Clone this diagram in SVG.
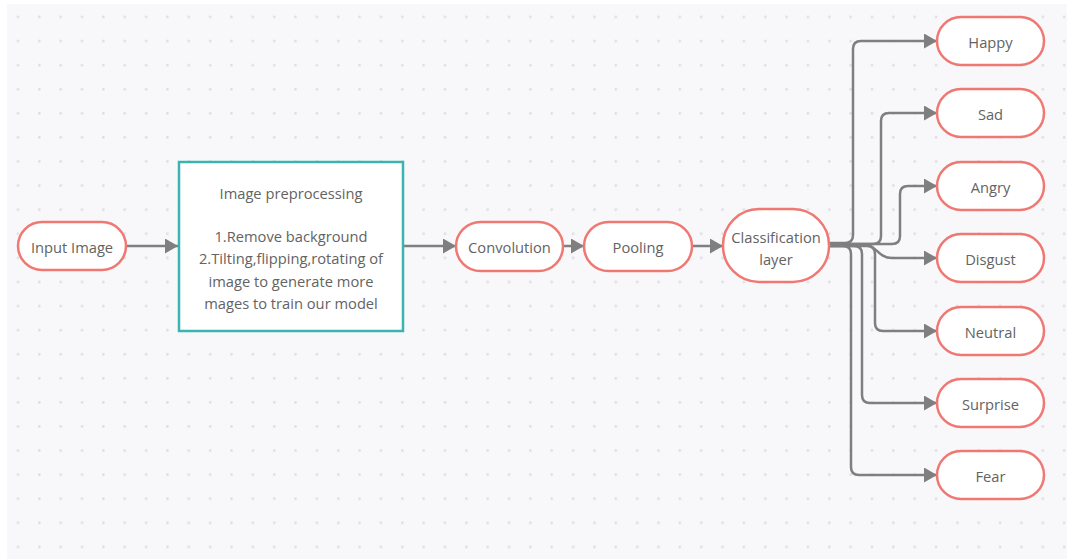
<svg xmlns="http://www.w3.org/2000/svg" width="1067" height="559" viewBox="0 0 1067 559">
<defs>
<pattern id="dots" x="7" y="5" width="21.35" height="24.09" patternUnits="userSpaceOnUse">
<circle cx="11" cy="12" r="1.3" fill="#dcdce2"/>
</pattern>
<marker id="ah" markerUnits="userSpaceOnUse" markerWidth="15" markerHeight="17" refX="13" refY="7.5" orient="auto">
<path d="M0,0 L13,7.5 L0,15 Z" fill="#7f7f7f"/>
</marker>
<style>
.pill{fill:#ffffff;stroke:#f07873;stroke-width:2.5}
.box{fill:#ffffff;stroke:#3bb3b0;stroke-width:2.5}
.t{font-family:"Open Sans","Noto Sans",sans-serif;font-size:14.7px;fill:#636363;text-anchor:middle}
.c{fill:none;stroke:#7f7f7f;stroke-width:2.5;marker-end:url(#ah)}
</style>
</defs>
<rect x="0" y="0" width="1067" height="559" fill="#ffffff"/>
<rect x="7" y="4" width="1060" height="555" fill="#f8f8fb"/>
<rect x="7" y="4" width="1060" height="555" fill="url(#dots)"/>
<g id="connectors">
<path class="c" d="M126,246 H178"/>
<path class="c" d="M404,246 H456"/>
<path class="c" d="M563,246 H584"/>
<path class="c" d="M692,246 H723"/>
<path class="c" d="M829,243 H845 Q853,243 853,235 V49 Q853,41 861,41 H937"/>
<path class="c" d="M829,244 H873 Q881,244 881,236 V121 Q881,113 889,113 H937"/>
<path class="c" d="M829,244 H892 Q900,244 900,236 V194 Q900,186 908,186 H937"/>
<path class="c" d="M829,245 H866 C876,245 878,258 892,258 H937"/>
<path class="c" d="M829,246 H867 Q875,246 875,254 V323 Q875,331 883,331 H937"/>
<path class="c" d="M829,246 H854 Q862,246 862,254 V395 Q862,403 870,403 H937"/>
<path class="c" d="M829,246 H843 Q851,246 851,254 V467 Q851,475 859,475 H937"/>
</g>
<g id="input">
<rect class="pill" x="18" y="222" width="108" height="48" rx="24"/>
<text class="t" x="72" y="253">Input Image</text>
</g>
<g id="preprocessing">
<rect class="box" x="179" y="162" width="224" height="169"/>
<text class="t" x="291" y="199">Image preprocessing</text>
<text class="t" x="291" y="242">1.Remove background</text>
<text class="t" x="291" y="264">2.Tilting,flipping,rotating of</text>
<text class="t" x="291" y="287">image to generate more</text>
<text class="t" x="291" y="309">mages to train our model</text>
</g>
<g id="convolution">
<rect class="pill" x="456" y="222" width="107" height="49" rx="24.5"/>
<text class="t" x="509.5" y="253">Convolution</text>
</g>
<g id="pooling">
<rect class="pill" x="584" y="222" width="108" height="49" rx="24.5"/>
<text class="t" x="638" y="253">Pooling</text>
</g>
<g id="classification">
<rect class="pill" x="723" y="209" width="106" height="73" rx="36"/>
<text class="t" x="776" y="243">Classification</text>
<text class="t" x="776" y="265">layer</text>
</g>
<g id="happy">
<rect class="pill" x="937" y="17" width="107" height="48" rx="24"/>
<text class="t" x="990.5" y="48">Happy</text>
</g>
<g id="sad">
<rect class="pill" x="937" y="89" width="107" height="48" rx="24"/>
<text class="t" x="990.5" y="120">Sad</text>
</g>
<g id="angry">
<rect class="pill" x="937" y="162" width="107" height="48" rx="24"/>
<text class="t" x="990.5" y="193">Angry</text>
</g>
<g id="disgust">
<rect class="pill" x="937" y="234" width="107" height="48" rx="24"/>
<text class="t" x="990.5" y="265">Disgust</text>
</g>
<g id="neutral">
<rect class="pill" x="937" y="307" width="107" height="48" rx="24"/>
<text class="t" x="990.5" y="338">Neutral</text>
</g>
<g id="surprise">
<rect class="pill" x="937" y="379" width="107" height="48" rx="24"/>
<text class="t" x="990.5" y="410">Surprise</text>
</g>
<g id="fear">
<rect class="pill" x="937" y="451" width="107" height="48" rx="24"/>
<text class="t" x="990.5" y="482">Fear</text>
</g>
</svg>
